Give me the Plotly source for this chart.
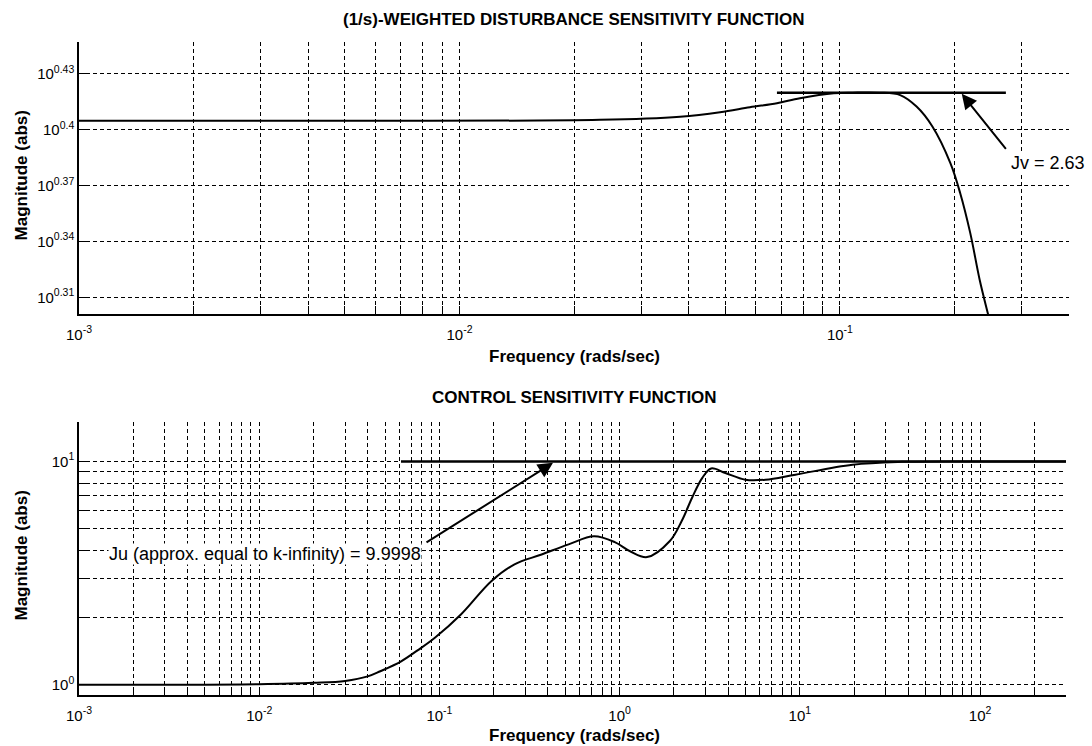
import numpy as np
import plotly.graph_objects as go

# ---- data -------------------------------------------------------------
# (1/s)-weighted disturbance sensitivity, magnitude vs frequency (rad/s)
top_freq = [0.001, 0.005, 0.0234, 0.038, 0.0484, 0.058, 0.0683, 0.0785, 0.0964,
            0.108, 0.127, 0.144, 0.159, 0.175, 0.195, 0.207, 0.220, 0.233, 0.245, 0.256]
top_mag = [2.540, 2.540, 2.543, 2.553, 2.567, 2.583, 2.596, 2.612, 2.628,
           2.630, 2.630, 2.622, 2.585, 2.522, 2.411, 2.323, 2.211, 2.086, 2.000, 1.93]

# control sensitivity, magnitude vs frequency (rad/s)
bot_freq = [0.001, 0.005, 0.01, 0.02, 0.03, 0.04, 0.047, 0.061, 0.076, 0.094, 0.132,
            0.194, 0.261, 0.369, 0.521, 0.72, 0.94, 1.15, 1.42, 1.9, 2.22, 2.52, 2.87,
            3.22, 3.86, 4.98, 6.44, 9.45, 19.6, 37, 100, 300]
bot_mag = [1.0, 1.0, 1.005, 1.02, 1.04, 1.09, 1.15, 1.27, 1.43, 1.62, 2.07,
           2.91, 3.46, 3.83, 4.25, 4.62, 4.35, 3.95, 3.73, 4.40, 5.45, 6.86, 8.42,
           9.30, 8.87, 8.28, 8.28, 8.72, 9.66, 9.95, 9.998, 9.9998]

Jv = 2.63
Jv_span = [0.0683, 0.273]
Ju = 9.9998
Ju_span = [0.0612, 300]

top_xticks = [1e-3, 1e-2, 1e-1]
top_xtext = ["10<sup>-3</sup>", "10<sup>-2</sup>", "10<sup>-1</sup>"]
top_yexp = ["0.31", "0.34", "0.37", "0.4", "0.43"]
bot_xticks = [1e-3, 1e-2, 1e-1, 1e0, 1e1, 1e2]
bot_xtext = ["10<sup>-3</sup>", "10<sup>-2</sup>", "10<sup>-1</sup>",
             "10<sup>0</sup>", "10<sup>1</sup>", "10<sup>2</sup>"]
bot_yticks = [1, 10]
bot_ytext = ["10<sup>0</sup>", "10<sup>1</sup>"]

# ---- helpers ----------------------------------------------------------
def minor_vals(lo_exp, hi_exp):
    vals = []
    for e in range(lo_exp, hi_exp + 1):
        for m in range(2, 10):
            vals.append(m * 10.0 ** e)
    return vals

FONT = "Liberation Sans, Arial, sans-serif"
grid = dict(showgrid=True, gridcolor="black", gridwidth=1, griddash="4px,3px")
axis_common = dict(type="log", showline=True, linecolor="black", linewidth=1.5,
                   ticks="inside", ticklen=8, tickcolor="black", tickwidth=1,
                   zeroline=False, mirror=False,
                   tickfont=dict(family=FONT, size=15, color="black"), **grid)

fig = go.Figure()

line_style = dict(color="black", width=2)
fig.add_trace(go.Scatter(x=top_freq, y=top_mag, mode="lines", line=line_style,
                         line_shape="spline", xaxis="x", yaxis="y", showlegend=False))
fig.add_trace(go.Scatter(x=Jv_span, y=[Jv, Jv], mode="lines",
                         line=dict(color="black", width=2.5),
                         xaxis="x", yaxis="y", showlegend=False))
fig.add_trace(go.Scatter(x=bot_freq, y=bot_mag, mode="lines", line=line_style,
                         line_shape="spline", xaxis="x2", yaxis="y2", showlegend=False))
fig.add_trace(go.Scatter(x=Ju_span, y=[Ju, Ju], mode="lines",
                         line=dict(color="black", width=2.5),
                         xaxis="x2", yaxis="y2", showlegend=False))

top_yvals = [10 ** float(e) for e in top_yexp]
top_ytext = ["10<sup>%s</sup>" % e for e in top_yexp]

fig.update_layout(
    width=1092, height=746,
    margin=dict(l=79, r=23, t=42, b=51),
    paper_bgcolor="white", plot_bgcolor="white",
    font=dict(family=FONT, color="black"),
    xaxis=dict(domain=[0, 1], anchor="y", range=[-3, np.log10(0.4)],
               tickvals=top_xticks, ticktext=top_xtext, ticklabelstandoff=6,
               minor=dict(tickvals=minor_vals(-3, -1), ticks="inside", ticklen=8,
                          tickcolor="black", **grid),
               **axis_common),
    yaxis=dict(domain=[0.5835, 1], anchor="x", range=[np.log10(2.0), np.log10(2.8)],
               tickvals=top_yvals, ticktext=top_ytext, **axis_common),
    xaxis2=dict(domain=[0, 0.997], anchor="y2", range=[-3, np.log10(300)],
                tickvals=bot_xticks, ticktext=bot_xtext, ticklabelstandoff=6,
                minor=dict(tickvals=minor_vals(-3, 2), ticks="inside", ticklen=8,
                           tickcolor="black", **grid),
                **axis_common),
    yaxis2=dict(domain=[0, 0.418], anchor="x2", range=[np.log10(0.9), np.log10(15)],
                tickvals=bot_yticks, ticktext=bot_ytext,
                minor=dict(tickvals=minor_vals(0, 0), ticks="inside", ticklen=8,
                           tickcolor="black", **grid),
                **axis_common),
)

bold = dict(family=FONT, size=17, color="black")
label_font = dict(family=FONT, size=17, color="black")

texts = [
    dict(text="<b>(1/s)-WEIGHTED DISTURBANCE SENSITIVITY FUNCTION</b>", x=0.5, y=1.034, font=bold),
    dict(text="<b>CONTROL SENSITIVITY FUNCTION</b>", x=0.5, y=0.455, font=bold),
    dict(text="<b>Frequency (rads/sec)</b>", x=0.5, y=0.519, font=label_font),
    dict(text="<b>Frequency (rads/sec)</b>", x=0.5, y=-0.062, font=label_font),
]
for t in texts:
    fig.add_annotation(xref="paper", yref="paper", showarrow=False,
                       xanchor="center", yanchor="middle", **t)

for yc in (0.795, 0.213):
    fig.add_annotation(xref="paper", yref="paper", x=-0.058, y=yc, showarrow=False,
                       text="<b>Magnitude (abs)</b>", textangle=-90, font=label_font,
                       xanchor="center", yanchor="middle")

# Jv arrow and label
fig.add_annotation(xref="x", yref="y", axref="x", ayref="y",
                   x=np.log10(0.209), y=np.log10(Jv - 0.004),
                   ax=np.log10(0.275), ay=np.log10(2.449),
                   text="", showarrow=True, arrowhead=2, arrowsize=1.5,
                   arrowwidth=2, arrowcolor="black")
fig.add_annotation(xref="x", yref="y", x=np.log10(0.280), y=np.log10(2.411),
                   text="Jv = %.2f" % Jv, showarrow=False, xanchor="left", yanchor="middle",
                   bgcolor="white", borderpad=0,
                   font=dict(family=FONT, size=18, color="black"))

# Ju arrow and label
fig.add_annotation(xref="x2", yref="y2", axref="x2", ayref="y2",
                   x=np.log10(0.427), y=np.log10(Ju * 0.985),
                   ax=np.log10(0.0832), ay=np.log10(4.30),
                   text="", showarrow=True, arrowhead=2, arrowsize=1.5,
                   arrowwidth=2, arrowcolor="black")
fig.add_annotation(xref="x2", yref="y2", x=np.log10(0.080), y=np.log10(3.85),
                   text="Ju (approx. equal to k-infinity) = %.4f" % Ju, showarrow=False,
                   xanchor="right", yanchor="middle", bgcolor="white", borderpad=0,
                   font=dict(family=FONT, size=18, color="black"))

fig.write_html("out.html")
